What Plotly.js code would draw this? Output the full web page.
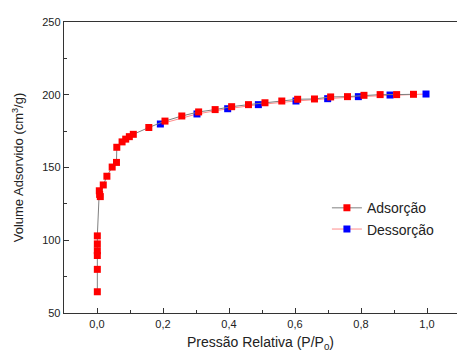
<!DOCTYPE html>
<html>
<head>
<meta charset="utf-8">
<script src="https://cdn.plot.ly/plotly-3.0.1.min.js"></script>
<style>html,body{margin:0;padding:0;background:#fff;}#chart{width:457px;height:354px;}</style>
</head>
<body>
<div id="chart"></div>
<script>
// Adsorption branch (P/P0, volume cm3/g)
const adsP = [0.001,0.001,0.001,0.001,0.001,0.001,0.007,0.008,0.010,0.019,0.030,0.046,0.059,0.060,0.076,0.087,0.098,0.110,0.157,0.206,0.257,0.308,0.358,0.408,0.459,0.509,0.560,0.608,0.659,0.708,0.759,0.809,0.858,0.908,0.959];
const adsV = [64.6,80.0,89.5,92.8,97.5,103.0,134.0,131.5,130.0,138.0,144.0,150.3,153.5,163.9,167.6,169.5,171.2,172.8,177.5,181.9,185.4,188.2,189.8,191.8,193.2,194.5,195.7,196.9,197.1,198.5,198.7,199.6,200.1,200.1,200.3];
// Desorption branch
const desP = [0.997,0.888,0.792,0.699,0.603,0.489,0.396,0.303,0.192];
const desV = [200.5,199.8,198.7,197.3,195.7,193.2,190.4,186.8,179.9];
const names = ["Adsorção","Dessorção"];
const yTicks = [50,100,150,200,250];
const xTicks = [0,0.2,0.4,0.6,0.8,1.0];

const traces = [
  {x:desP, y:desV, name:names[1], type:'scatter', mode:'lines+markers',
   line:{color:'#ff8c8c', width:1}, marker:{symbol:'square', size:7, color:'#0000ff'}},
  {x:adsP, y:adsV, name:names[0], type:'scatter', mode:'lines+markers',
   line:{color:'#808080', width:1}, marker:{symbol:'square', size:7, color:'#ff0000'}}
];
const font = {family:'Liberation Sans, Arial, sans-serif', color:'#222'};
const layout = {
  width:457, height:354,
  margin:{l:64, r:0, t:22, b:41},
  paper_bgcolor:'#fff', plot_bgcolor:'#fff',
  separators:',.',
  font:Object.assign({size:11}, font),
  showlegend:true,
  legend:{x:0.669, y:0.415, xanchor:'left', yanchor:'top', traceorder:'reversed',
          font:Object.assign({size:14}, font), bgcolor:'rgba(0,0,0,0)', itemwidth:30, tracegroupgap:0},
  xaxis:{range:[-0.1,1.0909], tickvals:xTicks, tickformat:'.1f', ticks:'inside', ticklen:5,
         tickcolor:'#333', showline:true, linecolor:'#333', linewidth:1.3, mirror:true,
         showgrid:false, zeroline:false, automargin:false,
         minor:{dtick:0.1, tick0:0, ticks:'inside', ticklen:3, tickcolor:'#333', showgrid:false},
         tickfont:Object.assign({size:11}, font),
         title:{text:'Pressão Relativa (P/P<sub>0</sub>)', font:Object.assign({size:14}, font), standoff:8}},
  yaxis:{range:[50,250], tickvals:yTicks, ticks:'inside', ticklen:5, tickcolor:'#333',
         showline:true, linecolor:'#333', linewidth:1.3, mirror:false,
         showgrid:false, zeroline:false, automargin:false,
         minor:{dtick:25, tick0:0, ticks:'inside', ticklen:3, tickcolor:'#333', showgrid:false},
         tickfont:Object.assign({size:11}, font),
         title:{text:'Volume Adsorvido (cm<sup>3</sup>/g)', font:Object.assign({size:13}, font), standoff:15}}
};
Plotly.newPlot('chart', traces, layout, {displayModeBar:false, staticPlot:true});
</script>
</body>
</html>
